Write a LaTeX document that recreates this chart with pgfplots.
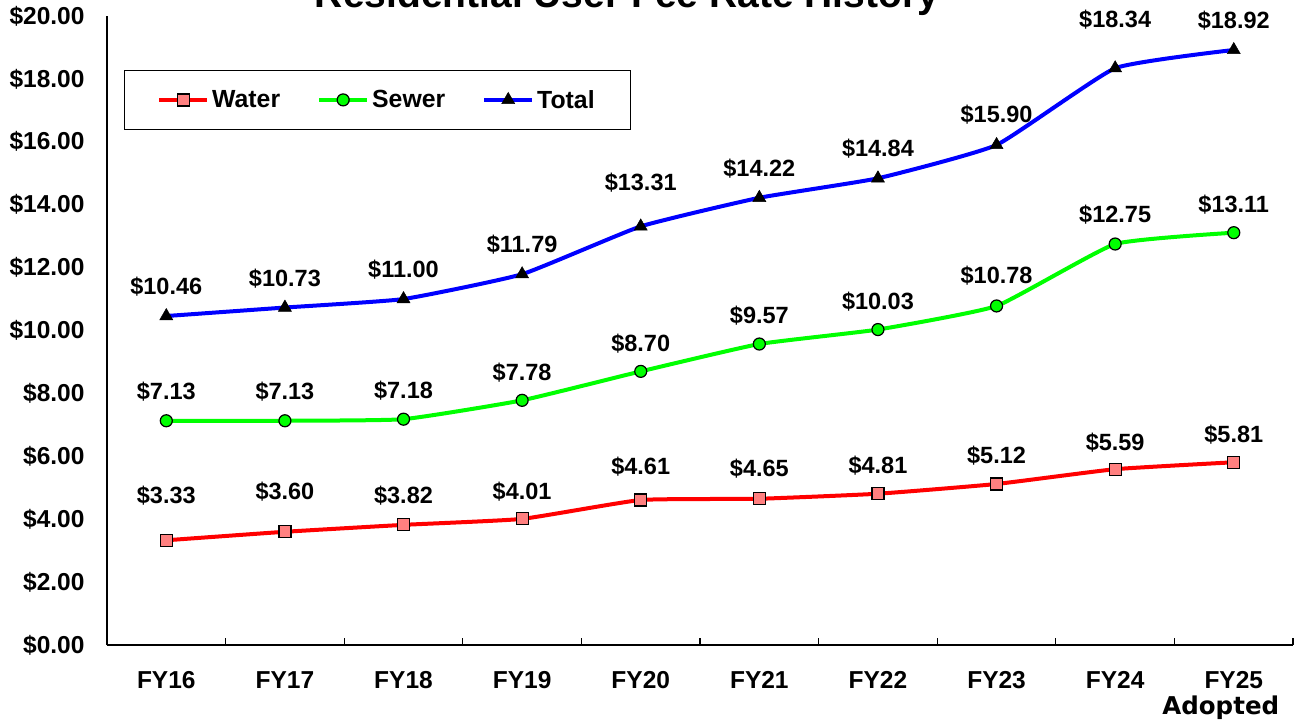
\documentclass[border=0pt]{standalone}
\usepackage{pgfplots}
\usepackage{pgfplotstable}
\pgfplotsset{compat=1.18}
\usepackage{fontspec}
\setmainfont{Liberation Sans}
\newfontfamily\dejabold{DejaVu Sans}
\definecolor{wline}{RGB}{255,0,0}
\definecolor{wfill}{RGB}{255,128,128}
\definecolor{sline}{RGB}{0,255,0}
\definecolor{tline}{RGB}{0,0,255}

\pgfplotstableread{
x y off
0 3.33 45
1 3.60 40
2 3.82 29
3 4.01 27
4 4.61 33
5 4.65 30
6 4.81 28
7 5.12 28
8 5.59 27
9 5.81 28
}\water
\pgfplotstableread{
x y off
0 7.13 29
1 7.13 29
2 7.18 29
3 7.78 28
4 8.70 28
5 9.57 28
6 10.03 28
7 10.78 30
8 12.75 29
9 13.11 28
}\sewer
\pgfplotstableread{
x y off
0 10.46 29
1 10.73 29
2 11.00 29
3 11.79 30
4 13.31 44
5 14.22 29
6 14.84 30
7 15.90 30
8 18.34 49
9 18.92 29
}\total

\begin{document}
\begin{tikzpicture}
\begin{axis}[
  scale only axis,
  width=1186pt, height=629pt,
  xmin=-0.5, xmax=9.5, ymin=0, ymax=20,
  axis lines=left,
  axis line style={-, line width=1.3pt, black},
  xtick={0,...,9},
  xticklabels={FY16,FY17,FY18,FY19,FY20,FY21,FY22,FY23,FY24,{FY25\\[1pt]\hspace*{-26pt}{\dejabold Adopted}}},
  xticklabel style={align=center, font=\fontsize{24.5}{25}\selectfont\bfseries, yshift=-23pt},
  minor xtick={-0.5,0.5,...,9.5},
  major tick length=0pt,
  minor tick length=7pt,
  tick align=inside,
  minor tick style={line width=1.2pt, black},
  ytick={0,2,...,20},
  yticklabel={\$\pgfmathprintnumber[fixed,fixed zerofill,precision=2]{\tick}},
  yticklabel style={font=\fontsize{24.5}{25}\selectfont\bfseries, xshift=-19pt},
  /pgf/number format/assume math mode=true,
  clip=false,
  legend columns=3,
  legend image code/.code={\draw[mark repeat=2,mark phase=2,#1] plot coordinates {(0pt,0pt) (24pt,0pt) (48pt,0pt)};},
  legend style={at={(axis description cs:0.01433,0.9142)}, anchor=north west,
    draw=black, font=\fontsize{24.8}{26}\selectfont\bfseries,
    inner xsep=33pt, inner ysep=17pt,
    nodes={inner sep=3pt},
    /tikz/every even column/.append style={column sep=34pt}},
  nodes near coords={\$\pgfmathprintnumber[fixed,fixed zerofill,precision=2]{\pgfplotspointmeta}},
  visualization depends on={\thisrow{off} \as \off},
  every node near coord/.append style={anchor=center, yshift=\off pt, black, font=\fontsize{23.5}{24}\selectfont\bfseries},
]
\addplot[draw=wline, line width=4pt, smooth, tension=0.25, mark=square*, mark size=6pt, mark options={draw=black, fill=wfill, line width=1.2pt, solid}] table[x=x,y=y] {\water};
\addlegendentry{Water}
\addplot[draw=sline, line width=4pt, smooth, tension=0.25, mark=*, mark size=6pt, mark options={draw=black, fill=sline, line width=1.2pt, solid}] table[x=x,y=y] {\sewer};
\addlegendentry{Sewer}
\addplot[draw=tline, line width=4pt, smooth, tension=0.25, mark=triangle*, mark size=7.5pt, mark options={draw=black, fill=black, line width=0.5pt, solid}] table[x=x,y=y] {\total};
\addlegendentry{Total}
\coordinate (O) at (rel axis cs:0,0);
\end{axis}
\node[anchor=base, font=\fontsize{39}{40}\selectfont\bfseries] at ([shift={(520pt,637pt)}]O) {Residential User Fee Rate History};
\pgfresetboundingbox
\path[use as bounding box] (O) ++(-107pt,-78pt) rectangle ++(1297pt,723pt);
\end{tikzpicture}
\end{document}
